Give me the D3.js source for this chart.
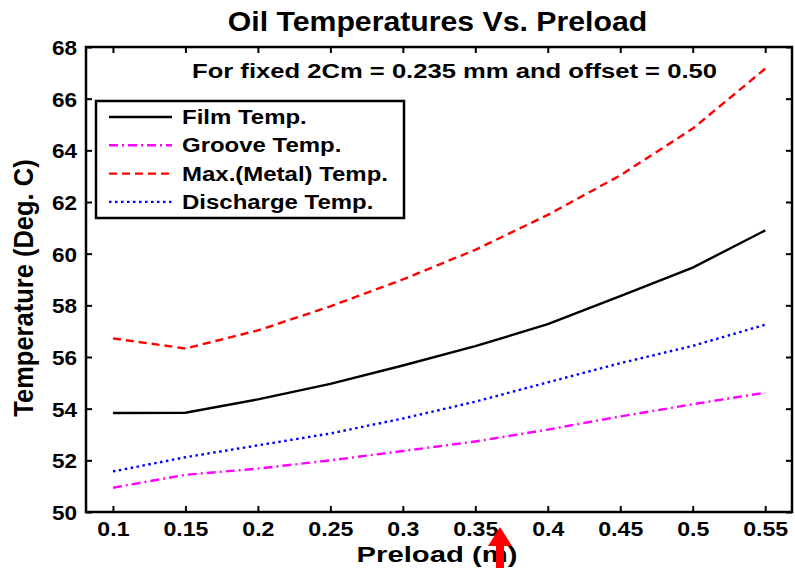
<!DOCTYPE html>
<html>
<head>
<meta charset="utf-8">
<script src="https://cdn.jsdelivr.net/npm/d3@7"></script>
<style>
  body { margin: 0; background: #fff; }
  text { font-family: Arial, "Liberation Sans", sans-serif; font-weight: bold; fill: #000; }
</style>
</head>
<body>
<svg id="chart_root" width="795" height="568"></svg>
<script>
// data
var preload = [0.1, 0.15, 0.2, 0.25, 0.3, 0.35, 0.4, 0.45, 0.5, 0.55];
var film_temp = [53.83, 53.84, 54.36, 54.96, 55.67, 56.42, 57.27, 58.36, 59.46, 60.9];
var groove_temp = [50.94, 51.44, 51.68, 52.0, 52.36, 52.73, 53.19, 53.7, 54.17, 54.62];
var max_temp = [56.72, 56.33, 57.03, 57.96, 59.0, 60.15, 61.5, 63.03, 64.84, 67.16];
var discharge_temp = [51.57, 52.12, 52.58, 53.04, 53.62, 54.27, 55.02, 55.76, 56.43, 57.25];
var x_ticks = [0.1, 0.15, 0.2, 0.25, 0.3, 0.35, 0.4, 0.45, 0.5, 0.55];
var y_ticks = [50, 52, 54, 56, 58, 60, 62, 64, 66, 68];
var legend_labels = ["Film Temp.", "Groove Temp.", "Max.(Metal) Temp.", "Discharge Temp."];

var series = [
    {name: legend_labels[0], values: film_temp, colour: "#000000", dash: null},
    {name: legend_labels[1], values: groove_temp, colour: "#ff00ff", dash: "9,4,2,4"},
    {name: legend_labels[2], values: max_temp, colour: "#ff0000", dash: "8,5"},
    {name: legend_labels[3], values: discharge_temp, colour: "#0000ff", dash: "2.5,3.5"}
];

var margin_left = 86, margin_top = 47, margin_right = 3, margin_bottom = 56;
var total_width = 795, total_height = 568;
var width = total_width - margin_left - margin_right;
var height = total_height - margin_top - margin_bottom;

var svg = d3.select("#chart_root");
var g = svg.append("g")
    .attr("transform", "translate(" + margin_left + "," + margin_top + ")");

var x = d3.scaleLinear().domain([0.0814, 0.5685]).range([0, width]);
var y = d3.scaleLinear().domain([50, 68]).range([height, 0]);

// the source picture is stretched sideways, so text gets a horizontal scale
function wide_text(parent, tx, ty, size, stretch, anchor, label)
{
    return parent.append("text")
        .attr("transform", "translate(" + tx + "," + ty + ") scale(" + stretch + ",1)")
        .attr("text-anchor", anchor)
        .style("font-size", size + "px")
        .text(label);
}

// ticks point inwards, on all four sides like matlab
var tick_len = 6;
g.append("g").attr("class", "x-axis")
    .attr("transform", "translate(0," + height + ")")
    .call(d3.axisBottom(x).tickValues(x_ticks).tickSizeInner(-tick_len).tickSizeOuter(0)
        .tickFormat(function(d) { return String(+d.toFixed(2)); }));
g.append("g").attr("class", "x-axis-top")
    .call(d3.axisTop(x).tickValues(x_ticks).tickSizeInner(-tick_len).tickSizeOuter(0).tickFormat(""));
g.append("g").attr("class", "y-axis")
    .call(d3.axisLeft(y).tickValues(y_ticks).tickSizeInner(-tick_len).tickSizeOuter(0));
g.append("g").attr("class", "y-axis-right")
    .attr("transform", "translate(" + width + ",0)")
    .call(d3.axisRight(y).tickValues(y_ticks).tickSizeInner(-tick_len).tickSizeOuter(0).tickFormat(""));

g.selectAll(".domain").remove();
g.selectAll(".tick line").attr("stroke", "#000").attr("stroke-width", 2);
g.selectAll(".tick text")
    .attr("fill", "#000")
    .attr("font-family", null).attr("font-size", null)
    .style("font-size", "20.5px")
    .style("font-family", "Arial, 'Liberation Sans', sans-serif")
    .style("font-weight", "bold");
g.selectAll(".x-axis .tick text")
    .attr("y", 0).attr("dy", null)
    .attr("transform", "translate(0,24) scale(1.13,1)");
g.selectAll(".y-axis .tick text")
    .attr("x", 0).attr("dy", "0.36em")
    .attr("transform", "translate(-9,0) scale(1.1,1)");

// box round the plot
g.append("rect")
    .attr("x", 0).attr("y", 0).attr("width", width).attr("height", height)
    .attr("fill", "none").attr("stroke", "#000").attr("stroke-width", 2.5);

// the lines
var line = d3.line()
    .x(function(d, i) { return x(preload[i]); })
    .y(function(d) { return y(d); });

series.forEach(function(s) {
    g.append("path")
        .datum(s.values)
        .attr("fill", "none")
        .attr("stroke", s.colour)
        .attr("stroke-width", 2.4)
        .attr("stroke-dasharray", s.dash)
        .attr("d", line);
});

// annotation
wide_text(svg, 192, 78, 21, 1.22, "start", "For fixed 2Cm = 0.235 mm and offset = 0.50");

// legend
var legend = g.append("g").attr("transform", "translate(10,54)");
legend.append("rect")
    .attr("x", 0).attr("y", 0).attr("width", 308).attr("height", 117)
    .attr("fill", "#fff").attr("stroke", "#000").attr("stroke-width", 2.5);
series.forEach(function(s, i) {
    var row_y = 16 + i * 28.3;
    legend.append("line")
        .attr("x1", 13).attr("x2", 76).attr("y1", row_y).attr("y2", row_y)
        .attr("stroke", s.colour).attr("stroke-width", 2.4)
        .attr("stroke-dasharray", s.dash);
    wide_text(legend, 86, row_y + 7, 19.5, 1.23, "start", s.name);
});

// titles
wide_text(svg, 437.5, 31, 27, 1.12, "middle", "Oil Temperatures Vs. Preload");
wide_text(svg, 437, 562, 22, 1.33, "middle", "Preload (m)");
svg.append("text")
    .attr("transform", "translate(33,288) rotate(-90) scale(1,1.12)")
    .attr("text-anchor", "middle")
    .style("font-size", "25.5px")
    .text("Temperature (Deg. C)");

// red arrow pointing at the x axis
svg.append("path")
    .attr("d", "M500,527 L512,546 L504,546 L504,568 L496,568 L496,546 L488,546 Z")
    .attr("fill", "#ff0000");
</script>
</body>
</html>
